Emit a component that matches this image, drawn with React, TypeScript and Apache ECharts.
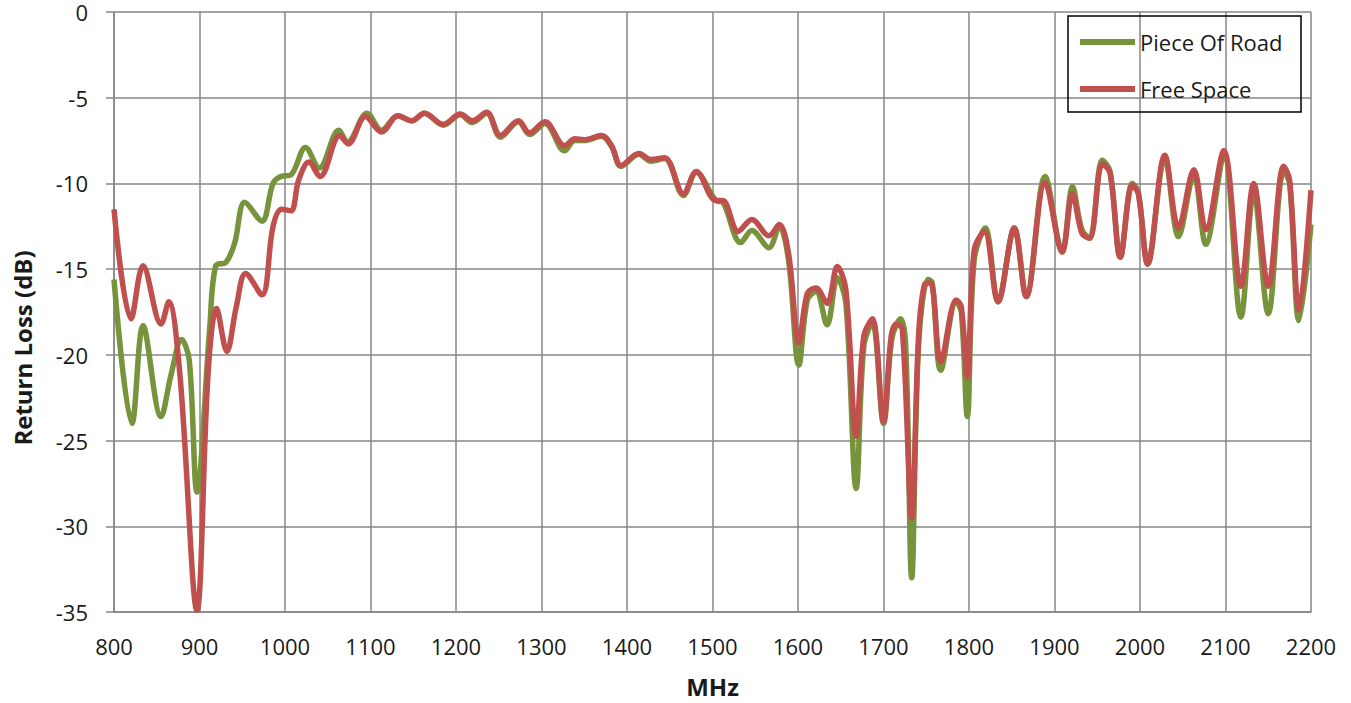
import React, { useEffect, useRef } from "react";
import * as echarts from "echarts";

// Piece Of Road (green)
const roadFreq = [
  800, 821, 834, 855, 867, 879, 888, 897, 912, 919, 931, 941, 953, 973, 986, 995, 1007,
  1024, 1040, 1063, 1073, 1096, 1113, 1132, 1148, 1163, 1185, 1205, 1219, 1236, 1252,
  1273, 1286, 1304, 1327, 1339, 1350, 1370, 1382, 1393, 1414, 1428, 1444, 1466, 1481,
  1504, 1512, 1533, 1546, 1566, 1578, 1589, 1601, 1611, 1621, 1634, 1646, 1656, 1668,
  1677, 1687, 1700, 1710, 1720, 1726, 1733, 1741, 1752, 1757, 1767, 1785, 1791, 1798,
  1806, 1819, 1834, 1853, 1867, 1889, 1909, 1921, 1932, 1941, 1956, 1965, 1977, 1991,
  1998, 2009, 2029, 2045, 2063, 2077, 2098, 2118, 2133, 2150, 2168, 2175, 2186, 2200,
];
const roadLoss = [
  -15.6, -24.0, -18.3, -23.6, -21.1, -19.1, -20.3, -28.0, -18.4, -14.8, -14.6, -13.5, -11.1, -12.2, -10.0, -9.6, -9.5,
  -7.9, -9.1, -6.9, -7.6, -5.9, -6.9, -6.05, -6.35, -5.9, -6.6, -6.0, -6.45, -5.9, -7.3,
  -6.4, -7.15, -6.5, -8.1, -7.5, -7.5, -7.25, -7.85, -9.0, -8.3, -8.7, -8.55, -10.7, -9.35,
  -11.0, -11.1, -13.45, -12.75, -13.75, -12.5, -14.5, -20.6, -16.8, -16.3, -18.25, -15.5, -17.0, -27.8,
  -19.5, -18.1, -24.0, -19.0, -17.9, -19.5, -33.0, -19.5, -15.6, -15.8, -20.9, -16.9, -17.5, -23.6,
  -14.5, -12.6, -16.9, -12.6, -16.6, -9.6, -14.0, -10.2, -12.7, -13.2, -8.65, -9.3, -14.3, -10.0,
  -10.5, -14.7, -8.5, -13.1, -9.5, -13.55, -8.4, -17.8, -10.5, -17.6, -9.3, -10.0, -18.0, -12.4,
];

// Free Space (red)
const freeFreq = [
  800, 820, 834, 855, 864, 877, 897, 910, 920, 932, 943, 954, 973, 986, 996, 1007,
  1016, 1028, 1041, 1064, 1074, 1094, 1113, 1132, 1148, 1163, 1185, 1205, 1219, 1236, 1252,
  1273, 1286, 1304, 1327, 1339, 1350, 1370, 1382, 1393, 1414, 1428, 1444, 1466, 1481,
  1504, 1512, 1530, 1546, 1566, 1578, 1589, 1601, 1611, 1621, 1634, 1646, 1656, 1668,
  1677, 1687, 1700, 1709, 1715, 1722, 1733, 1741, 1748, 1755, 1767, 1785, 1791, 1798,
  1806, 1818, 1834, 1853, 1867, 1889, 1909, 1921, 1932, 1941, 1956, 1965, 1977, 1991,
  1998, 2009, 2029, 2045, 2063, 2077, 2098, 2118, 2133, 2150, 2168, 2175, 2186, 2200,
];
const freeLoss = [
  -11.5, -17.9, -14.8, -18.2, -16.9, -21.1, -34.9, -21.1, -17.3, -19.8, -17.2, -15.25, -16.5, -12.5, -11.5, -11.6,
  -9.8, -8.75, -9.6, -7.2, -7.7, -6.1, -7.0, -6.05, -6.35, -5.9, -6.55, -5.95, -6.35, -5.85, -7.2,
  -6.35, -7.05, -6.4, -7.8, -7.4, -7.45, -7.2, -7.8, -8.95, -8.25, -8.6, -8.5, -10.6, -9.3,
  -11.0, -11.0, -12.8, -12.1, -13.05, -12.4, -14.1, -19.3, -16.4, -16.1, -17.0, -14.85, -16.2, -24.75,
  -18.9, -17.9, -23.9, -18.9, -18.2, -18.5, -29.5, -18.9, -15.9, -15.8, -20.4, -16.8, -17.2, -21.3,
  -13.9, -12.8, -16.9, -12.6, -16.6, -9.95, -14.0, -10.6, -12.9, -13.2, -8.85, -9.4, -14.3, -10.1,
  -10.6, -14.7, -8.35, -12.6, -9.2, -12.7, -8.1, -16.0, -10.0, -16.0, -9.0, -9.8, -17.4, -10.4,
];

const seriesNames = ["Piece Of Road", "Free Space"];
const xTitle = "MHz";
const yTitle = "Return Loss (dB)";

const FONT = "'Open Sans', 'Noto Sans', sans-serif";
const GRID_COLOR = "#878787";
const TEXT_COLOR = "#1a1a1a";

export default function App() {
  const ref = useRef<HTMLDivElement>(null);

  useEffect(() => {
    if (!ref.current) return;
    const chart = echarts.init(ref.current, null, { renderer: "svg" });
    const road = roadFreq.map((f, i) => [f, roadLoss[i]]);
    const free = freeFreq.map((f, i) => [f, freeLoss[i]]);

    chart.setOption({
      animation: false,
      backgroundColor: "#ffffff",
      grid: { left: 114, right: 40, top: 12, bottom: 91, containLabel: false },
      xAxis: {
        type: "value",
        min: 800,
        max: 2200,
        interval: 100,
        name: xTitle,
        nameLocation: "middle",
        nameGap: 62,
        nameTextStyle: { fontFamily: FONT, fontSize: 24, fontWeight: "bold", color: TEXT_COLOR },
        axisLine: { show: true, onZero: false, lineStyle: { color: GRID_COLOR, width: 1.5 } },
        axisTick: { show: false },
        axisLabel: {
          margin: 23,
          fontFamily: FONT,
          fontSize: 22,
          color: TEXT_COLOR,
          formatter: (v: number) => String(v),
        },
        splitLine: { show: true, lineStyle: { color: GRID_COLOR, width: 1.5 } },
      },
      yAxis: {
        type: "value",
        min: -35,
        max: 0,
        interval: 5,
        axisLine: { show: true, lineStyle: { color: GRID_COLOR, width: 1.5 } },
        axisTick: { show: true, inside: false, length: 8, lineStyle: { color: GRID_COLOR, width: 1.5 } },
        axisLabel: {
          margin: 26,
          fontFamily: FONT,
          fontSize: 22,
          lineHeight: 20,
          color: TEXT_COLOR,
          formatter: (v: number) => String(v),
        },
        splitLine: { show: true, lineStyle: { color: GRID_COLOR, width: 1.5 } },
      },
      legend: {
        orient: "vertical",
        left: 1080,
        top: 30,
        padding: 0,
        itemWidth: 55,
        itemHeight: 6,
        itemGap: 23,
        icon: "rect",
        data: seriesNames,
        textStyle: { fontFamily: FONT, fontSize: 22, color: TEXT_COLOR, lineHeight: 24 },
      },
      graphic: [
        {
          type: "rect",
          shape: { x: 1068, y: 16, width: 233, height: 96 },
          style: { fill: "none", stroke: "#000000", lineWidth: 1.5 },
          z: 10,
        },
        {
          type: "text",
          x: 22,
          y: 348,
          rotation: Math.PI / 2,
          style: {
            text: yTitle,
            fontFamily: FONT,
            fontSize: 24,
            fontWeight: "bold",
            fill: TEXT_COLOR,
            textAlign: "center",
            textVerticalAlign: "middle",
          },
        },
      ],
      series: [
        {
          name: seriesNames[0],
          type: "line",
          data: road,
          smooth: 0.35,
          showSymbol: false,
          symbol: "none",
          color: "#77933C",
          lineStyle: { width: 5.5, color: "#77933C" },
          z: 2,
        },
        {
          name: seriesNames[1],
          type: "line",
          data: free,
          smooth: 0.35,
          showSymbol: false,
          symbol: "none",
          color: "#C0504D",
          lineStyle: { width: 5.5, color: "#C0504D" },
          z: 3,
        },
      ],
    });
    return () => chart.dispose();
  }, []);

  return (
    <div
      ref={ref}
      style={{ position: "fixed", left: 0, top: 0, width: 1351, height: 703, background: "#fff" }}
    />
  );
}
